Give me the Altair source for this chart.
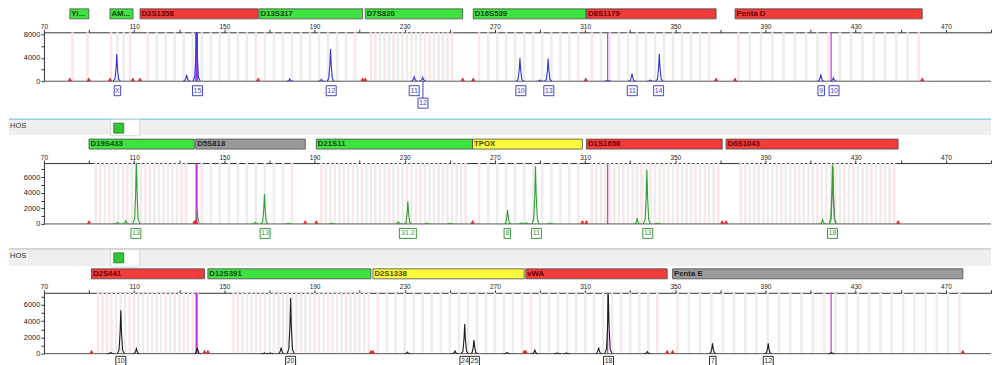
import altair as alt
import pandas as pd

# ---------------- shared axis data ----------------
X_DOMAIN = [70, 490]
X_TICKS = [70, 90, 110, 130, 150, 170, 190, 210, 230, 250, 270, 290, 310, 330,
           350, 370, 390, 410, 430, 450, 470, 490]
X_LABELLED = [70, 110, 150, 190, 230, 270, 310, 350, 390, 430, 470]

# ---------------- panel 1 (blue dye) ----------------
P1_LOCI = ["Yi...", "AM...", "D3S1358", "D13S317", "D7S820", "D16S539", "D8S1179", "Penta D"]
P1_LOCUS_START = [81.5, 99.3, 112.6, 165.4, 212.5, 260.4, 310.6, 376.5]
P1_LOCUS_END = [89.9, 109.5, 165.0, 211.3, 255.7, 310.3, 368.1, 459.5]
P1_LOCUS_COLOR = ["green", "green", "red", "green", "green", "green", "red", "red"]
P1_BIN_FIRST = [82.7, 99.8, 116, 168, 215, 263, 313, 378]
P1_BIN_LAST = [89.3, 108.2, 164, 208, 251, 307, 365, 458]
P1_BIN_STEP = [6.6, 2.8, 4, 4, 4, 4, 4, 5]
P1_BIN_MICRO = [False, False, False, False, True, False, False, False]
P1_PEAK_POS = [102.3, 133.3, 137.7, 179.0, 193.0, 197.1, 234.2, 238.0, 281.1, 290.0,
               293.6, 320.0, 330.8, 339.0, 342.9, 414.5, 420.1]
P1_PEAK_HEIGHT = [4650, 1100, 9500, 400, 300, 5550, 750, 650, 4000, 200,
                  3900, 150, 1300, 200, 4700, 1200, 600]
P1_GRAY_POS = []
P1_GRAY_HEIGHT = []
P1_ALLELE_TEXT = ["X", "15", "12", "11", "12", "10", "13", "11", "14", "9", "10"]
P1_ALLELE_POS = [102.6, 138.1, 197.4, 234.2, 238.1, 281.5, 293.9, 330.9, 342.6, 414.7, 420.4]
P1_ALLELE_ROW = [1, 1, 1, 1, 2, 1, 1, 1, 1, 1, 1]
P1_SPIKES = [137.7, 320.0, 419.1]
P1_Y_TICKS = [0, 2000, 4000, 6000, 8000]
P1_Y_LABELLED = [0, 4000, 8000]

# ---------------- panel 2 (green dye) ----------------
P2_LOCI = ["D19S433", "D5S818", "D21S11", "TPOX", "D1S1656", "D6S1043"]
P2_LOCUS_START = [90.0, 137.3, 190.8, 260.1, 310.6, 372.5]
P2_LOCUS_END = [136.7, 185.9, 260.1, 308.8, 370.8, 448.8]
P2_LOCUS_COLOR = ["green", "gray", "green", "yellow", "red", "red"]
P2_BIN_FIRST = [93, 140, 193, 263, 313, 379]
P2_BIN_LAST = [133, 180, 257, 307, 369, 447]
P2_BIN_STEP = [4, 4, 4, 4, 4, 4]
P2_BIN_MICRO = [True, False, True, False, True, True]
P2_PEAK_POS = [102.6, 106.3, 111.0, 163.8, 167.8, 178.4, 197.7, 227.2, 231.4, 239.8,
               250.1, 275.6, 281.8, 284.0, 288.0, 294.3, 333.1, 337.4, 342.1, 415.3, 419.7]
P2_PEAK_HEIGHT = [200, 420, 8200, 200, 3800, 100, 100, 250, 2880, 100,
                  100, 1820, 150, 150, 7420, 100, 640, 6940, 100, 550, 7620]
P2_GRAY_POS = [138.0, 419.9]
P2_GRAY_HEIGHT = [1750, 7300]
P2_ALLELE_TEXT = ["13", "13", "31.2", "8", "11", "13", "18"]
P2_ALLELE_POS = [110.8, 168.1, 231.4, 275.5, 288.4, 337.8, 419.7]
P2_ALLELE_ROW = [1, 1, 1, 1, 1, 1, 1]
P2_SPIKES = [137.7, 320.0]
P2_Y_TICKS = [0, 1000, 2000, 3000, 4000, 5000, 6000, 7000]
P2_Y_LABELLED = [0, 2000, 4000, 6000]

# ---------------- panel 3 (black dye) ----------------
P3_LOCI = ["D2S441", "D12S391", "D2S1338", "vWA", "Penta E"]
P3_LOCUS_START = [91.1, 142.7, 215.9, 283.7, 348.8]
P3_LOCUS_END = [141.2, 215.0, 283.0, 346.4, 477.5]
P3_LOCUS_COLOR = ["red", "green", "yellow", "red", "gray"]
P3_BIN_FIRST = [94, 154, 218, 286, 351]
P3_BIN_LAST = [138, 214, 282, 342, 476]
P3_BIN_STEP = [4, 4, 4, 4, 5]
P3_BIN_MICRO = [True, True, False, False, False]
P3_PEAK_POS = [99.6, 104.1, 111.0, 138.0, 167.8, 170.4, 175.2, 179.4, 231.2, 252.3,
               256.6, 260.7, 275.4, 287.7, 297.6, 301.7, 316.0, 320.3, 337.6, 366.5,
               391.2, 419.3]
P3_PEAK_HEIGHT = [150, 5330, 610, 700, 100, 100, 740, 6850, 200, 320,
                  3650, 1670, 150, 440, 100, 100, 740, 7300, 250, 1260,
                  1260, 150]
P3_GRAY_POS = []
P3_GRAY_HEIGHT = []
P3_ALLELE_TEXT = ["10", "20", "24", "25", "18", "7", "12"]
P3_ALLELE_POS = [104.1, 179.4, 256.7, 260.9, 320.4, 366.6, 391.2]
P3_ALLELE_ROW = [1, 1, 1, 1, 1, 1, 1]
P3_SPIKES = [137.7, 320.0, 419.1]
P3_Y_TICKS = [0, 1000, 2000, 3000, 4000, 5000, 6000, 7000]
P3_Y_LABELLED = [0, 2000, 4000, 6000]

HEADER_TEXT = "HOS"

# ---------------- styles ----------------
PLOT_W = 949
PX_PER_BP = PLOT_W / (X_DOMAIN[1] - X_DOMAIN[0])
BAR_FILL = {"red": "#f23b3b", "green": "#3fe33f", "gray": "#9a9a9a", "yellow": "#fbfb3c"}
BAR_TEXT = {"red": "#6a0000", "green": "#0a440a", "gray": "#222222", "yellow": "#4a4a00"}
BIN_COL = {"gray": "#ededed", "pink": "#fbe7e7"}
SPIKE_COL = "#c63ad2"
TRI_COL = "#e3242b"
FONT = "Liberation Sans"

PANELS = [
    dict(loci=P1_LOCI, start=P1_LOCUS_START, end=P1_LOCUS_END, col=P1_LOCUS_COLOR,
         bf=P1_BIN_FIRST, bl=P1_BIN_LAST, bs=P1_BIN_STEP, bm=P1_BIN_MICRO,
         pp=P1_PEAK_POS, ph=P1_PEAK_HEIGHT, gp=P1_GRAY_POS, gh=P1_GRAY_HEIGHT,
         at=P1_ALLELE_TEXT, ap=P1_ALLELE_POS, ar=P1_ALLELE_ROW, sp=P1_SPIKES,
         yt=P1_Y_TICKS, yl=P1_Y_LABELLED,
         H=49, D=8400, trace="#3434d0", box="#4444c4", header=None,
         bar_top=23.5, bar_bot=13.5, lab_top=4.5, spike_w=2.8, spike_col="#9a3cf0"),
    dict(loci=P2_LOCI, start=P2_LOCUS_START, end=P2_LOCUS_END, col=P2_LOCUS_COLOR,
         bf=P2_BIN_FIRST, bl=P2_BIN_LAST, bs=P2_BIN_STEP, bm=P2_BIN_MICRO,
         pp=P2_PEAK_POS, ph=P2_PEAK_HEIGHT, gp=P2_GRAY_POS, gh=P2_GRAY_HEIGHT,
         at=P2_ALLELE_TEXT, ap=P2_ALLELE_POS, ar=P2_ALLELE_ROW, sp=P2_SPIKES,
         yt=P2_Y_TICKS, yl=P2_Y_LABELLED,
         H=61, D=7820, trace="#2f9f2f", box="#3a963a",
         header=dict(line="#8fd3e2", bg_bot=28.4),
         bar_top=24, bar_bot=14, lab_top=4.5, spike_w=2.2, spike_col=SPIKE_COL),
    dict(loci=P3_LOCI, start=P3_LOCUS_START, end=P3_LOCUS_END, col=P3_LOCUS_COLOR,
         bf=P3_BIN_FIRST, bl=P3_BIN_LAST, bs=P3_BIN_STEP, bm=P3_BIN_MICRO,
         pp=P3_PEAK_POS, ph=P3_PEAK_HEIGHT, gp=P3_GRAY_POS, gh=P3_GRAY_HEIGHT,
         at=P3_ALLELE_TEXT, ap=P3_ALLELE_POS, ar=P3_ALLELE_ROW, sp=P3_SPIKES,
         yt=P3_Y_TICKS, yl=P3_Y_LABELLED,
         H=61, D=7480, trace="#1c1c1c", box="#2a2a2a",
         header=dict(line="#c4c4c4", bg_bot=26.7),
         bar_top=24, bar_bot=14, lab_top=2.7, spike_w=2.2, spike_col=SPIKE_COL),
]

SHAPE_DX = [-1.6, -0.8, -0.3, 0.0, 0.3, 0.8, 1.6]
SHAPE_FR = [0.0, 0.08, 0.5, 1.0, 0.5, 0.08, 0.0]


def lab_expr(vals):
    return "indexof([%s], datum.value) >= 0 ? datum.label : ''" % ",".join(str(v) for v in vals)


def bins_for(first, last, step, micro):
    out = []
    n = int(round((last - first) / step))
    for i in range(n + 1):
        b = first + i * step
        out.append((b, "pink" if i in (0, n) else "gray"))
        if micro and i < n:
            out.append((b + step / 2, "pink"))
    return out


def trace_df(pos, hts, tag):
    rows = []
    for k, (c, h) in enumerate(zip(pos, hts)):
        for dx, fr in zip(SHAPE_DX, SHAPE_FR):
            rows.append({"pid": f"{tag}{k}", "x": c + dx, "y": h * fr})
    return pd.DataFrame(rows if rows else [{"pid": "none", "x": 0, "y": 0}])


def make_panel(p):
    H, D = p["H"], p["D"]
    u = D / H

    def up(px):
        return D + px * u

    def dn(px):
        return -px * u

    xs = alt.Scale(domain=X_DOMAIN, nice=False, zero=False)
    ys = alt.Scale(domain=[0, D], nice=False, zero=False)
    xax = alt.Axis(orient="top", values=X_TICKS, labelExpr=lab_expr(X_LABELLED), format="d",
                   title=None, grid=False, tickSize=3, labelPadding=0, labelFontSize=6.5,
                   labelColor="#222222", domainColor="#333333", tickColor="#333333",
                   labelFlush=False, labelOverlap=False, labelFont=FONT)
    yax = alt.Axis(orient="left", values=p["yt"], labelExpr=lab_expr(p["yl"]), format="d",
                   title=None, grid=False, tickSize=3, labelPadding=1, labelFontSize=7.5,
                   labelColor="#222222", domainColor="#333333", tickColor="#333333",
                   labelFlush=False, labelOverlap=False, labelFont=FONT)

    def X(f):
        return alt.X(f, type="quantitative", scale=xs, axis=xax)

    def Y(f):
        return alt.Y(f, type="quantitative", scale=ys, axis=yax)

    layers = []

    # header strip
    hd = p["header"]
    if hd is not None:
        left = X_DOMAIN[0] - 35 / PX_PER_BP
        box_l = X_DOMAIN[0] + (110 - 43) / PX_PER_BP
        box_r = X_DOMAIN[0] + (139 - 43) / PX_PER_BP
        ic_l = X_DOMAIN[0] + (113 - 43) / PX_PER_BP
        ic_r = X_DOMAIN[0] + (123 - 43) / PX_PER_BP
        bg = pd.DataFrame([{"l": left, "r": X_DOMAIN[1], "t": up(44), "b": up(hd["bg_bot"])}])
        layers.append(alt.Chart(bg).mark_rect(fill="#efefef").encode(
            x=X("l"), x2="r", y=Y("t"), y2="b"))
        layers.append(alt.Chart(bg).mark_rule(color=hd["line"], strokeWidth=1.5).encode(
            x=X("l"), x2="r", y=Y("t")))
        tx = pd.DataFrame([{"x": left, "y": up(37), "t": HEADER_TEXT}])
        layers.append(alt.Chart(tx).mark_text(align="left", baseline="middle", dx=1,
                                             fontSize=7.5, color="#333333", font=FONT).encode(
            x=X("x"), y=Y("y"), text="t:N"))
        wb = pd.DataFrame([{"l": box_l, "r": box_r, "t": up(43.5), "b": up(hd["bg_bot"] - 1)}])
        layers.append(alt.Chart(wb).mark_rect(fill="white", stroke="#cfcfcf", strokeWidth=0.8).encode(
            x=X("l"), x2="r", y=Y("t"), y2="b"))
        ic = pd.DataFrame([{"l": ic_l, "r": ic_r, "t": up(40), "b": up(30)}])
        layers.append(alt.Chart(ic).mark_rect(fill="#35c435", stroke="#1c781c", strokeWidth=0.8).encode(
            x=X("l"), x2="r", y=Y("t"), y2="b"))

    # bins
    brows = []
    for f, l, s, m in zip(p["bf"], p["bl"], p["bs"], p["bm"]):
        for b, kind in bins_for(f, l, s, m):
            brows.append({"x": b, "c": BIN_COL[kind]})
    layers.append(alt.Chart(pd.DataFrame(brows)).mark_rule(strokeWidth=2.5).encode(
        x=X("x"), color=alt.Color("c:N", scale=None)))

    # spikes (magenta)
    sdf = pd.DataFrame({"x": p["sp"], "w": [p["spike_w"]] + [1.2] * (len(p["sp"]) - 1),
                        "c": [p["spike_col"]] + [SPIKE_COL] * (len(p["sp"]) - 1)})
    layers.append(alt.Chart(sdf).mark_rule().encode(
        x=X("x"), strokeWidth=alt.StrokeWidth("w:Q", scale=None),
        color=alt.Color("c:N", scale=None)))

    # baseline
    layers.append(alt.Chart(pd.DataFrame({"y": [0]})).mark_rule(color="#555555", strokeWidth=1).encode(
        y=Y("y")))

    # gray peaks & dye trace
    if p["gp"]:
        layers.append(alt.Chart(trace_df(p["gp"], p["gh"], "g")).mark_line(
            color="#7a7a7a", strokeWidth=1, clip=True).encode(
            x=X("x"), y=Y("y"), detail="pid:N"))
    layers.append(alt.Chart(trace_df(p["pp"], p["ph"], "p")).mark_line(
        color=p["trace"], strokeWidth=1.1, clip=True).encode(
        x=X("x"), y=Y("y"), detail="pid:N"))

    # triangles at locus edges
    edges = sorted(set(p["start"]) | set(p["end"]))
    merged = []
    for e in edges:
        if merged and e - merged[-1] < 0.5:
            continue
        merged.append(e)
    tdf = pd.DataFrame({"x": merged, "y": [0] * len(merged)})
    layers.append(alt.Chart(tdf).mark_point(shape="triangle-up", filled=True, size=18,
                                            color=TRI_COL, opacity=1, yOffset=-2).encode(
        x=X("x"), y=Y("y")))

    # marker bars
    mdf = pd.DataFrame({
        "name": p["loci"], "s": p["start"], "e": p["end"],
        "fill": [BAR_FILL[c] for c in p["col"]], "tc": [BAR_TEXT[c] for c in p["col"]],
    })
    mdf["t"] = up(p["bar_top"])
    mdf["b"] = up(p["bar_bot"])
    mdf["m"] = up((p["bar_top"] + p["bar_bot"]) / 2)
    layers.append(alt.Chart(mdf).mark_rect(stroke="#4a4a4a", strokeWidth=0.8).encode(
        x=X("s"), x2="e", y=Y("t"), y2="b", fill=alt.Fill("fill:N", scale=None)))
    layers.append(alt.Chart(mdf).mark_text(align="left", baseline="middle", dx=1.5, fontSize=7.8,
                                           fontWeight="bold", font=FONT).encode(
        x=X("s"), y=Y("m"), text="name:N", color=alt.Color("tc:N", scale=None)))

    # allele labels
    arows = []
    for t, pos, r in zip(p["at"], p["ap"], p["ar"]):
        half = (3 + 3.5 * len(t)) / 2 / PX_PER_BP
        top = p["lab_top"] + (r - 1) * 12.5
        arows.append({"t": t, "x": pos, "l": pos - half, "r": pos + half,
                      "yt": dn(top), "yb": dn(top + 10), "ym": dn(top + 5),
                      "y0": 0, "row": r})
    adf = pd.DataFrame(arows)
    conn = adf[adf["row"] > 1]
    if len(conn):
        layers.append(alt.Chart(conn).mark_rule(color=p["box"], strokeWidth=1).encode(
            x=X("x"), y=Y("y0"), y2="yt"))
    layers.append(alt.Chart(adf).mark_rect(fill="white", stroke=p["box"], strokeWidth=1).encode(
        x=X("l"), x2="r", y=Y("yt"), y2="yb"))
    layers.append(alt.Chart(adf).mark_text(baseline="middle", fontSize=7, color=p["box"],
                                           font=FONT).encode(
        x=X("x"), y=Y("ym"), text="t:N"))

    return alt.layer(*layers).properties(width=PLOT_W, height=H)


chart = alt.vconcat(*[make_panel(p) for p in PANELS], spacing=9).properties(
    padding=0, background="white"
).configure(font=FONT).configure_view(strokeWidth=0)

chart.save("out.html", embed_options={"renderer": "svg", "actions": False})
